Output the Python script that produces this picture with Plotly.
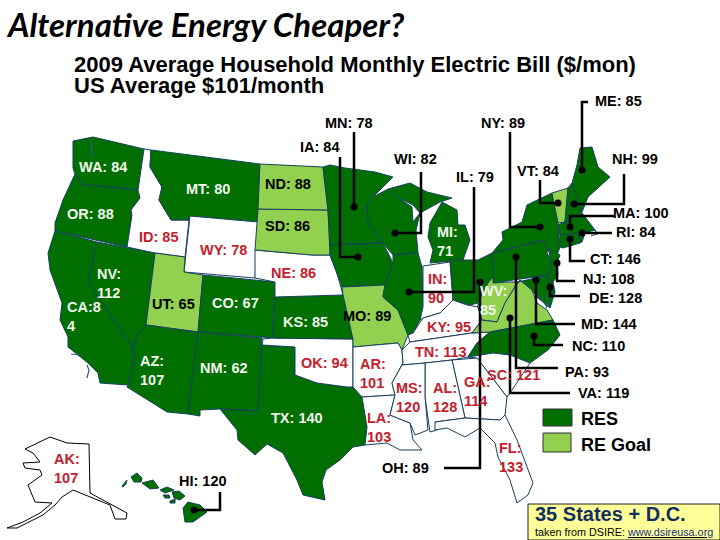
import plotly.graph_objects as go

# bills per state, $/month
states = ["WA", "OR", "CA", "NV", "ID", "MT", "WY", "UT", "AZ", "NM", "CO", "ND", "SD", "NE", "KS", "OK", "TX",
          "MN", "IA", "MO", "AR", "LA", "WI", "IL", "MI", "IN", "OH", "KY", "TN", "MS", "AL", "GA", "FL", "SC",
          "NC", "VA", "WV", "PA", "NY", "VT", "NH", "ME", "MA", "RI", "CT", "NJ", "DE", "MD", "AK", "HI"]
bills = [84, 88, 84, 112, 85, 80, 78, 65, 107, 62, 67, 88, 86, 86, 85, 94, 140,
         78, 84, 89, 101, 103, 82, 79, 71, 90, 89, 95, 113, 120, 128, 114, 133, 121,
         110, 119, 85, 93, 89, 84, 99, 85, 100, 84, 146, 108, 128, 144, 107, 120]
res_states = ["WA", "OR", "CA", "NV", "MT", "AZ", "NM", "CO", "KS", "TX", "MN", "IA", "WI", "IL", "MI", "OH",
              "NC", "PA", "NY", "NH", "ME", "MA", "RI", "CT", "NJ", "DE", "MD", "HI"]
goal_states = ["UT", "ND", "SD", "MO", "VA", "WV", "VT"]
two_line = ["NV", "AZ", "MI", "IN", "WV", "AR", "MS", "AL", "GA", "LA", "FL", "AK"]
black_text = ["MN", "IA", "WI", "IL", "NY", "VT", "ME", "NH", "MA", "RI", "CT", "NJ", "DE", "MD", "NC", "PA",
              "VA", "OH", "HI", "ND", "SD", "UT", "MO"]

# label centres
label_x = dict(WA=103, OR=90, CA=84, NV=109, ID=159, MT=208, WY=223, UT=173, AZ=152, NM=224, CO=235, ND=288,
               SD=287, NE=293, KS=305, OK=324, TX=297, MN=349, IA=320, MO=367, AR=373, LA=379, WI=415, IL=475,
               MI=447, IN=437, OH=405, KY=449, TN=441, MS=409, AL=445, GA=477, FL=511, SC=513, NC=598, VA=603,
               WV=493, PA=587, NY=503, VT=538, NH=635, ME=618, MA=641, RI=636, CT=615, NJ=609, DE=615, MD=609,
               AK=67, HI=203)
label_y = dict(WA=167, OR=214, CA=316, NV=283, ID=237, MT=189, WY=250, UT=304, AZ=370, NM=368, CO=303, ND=184,
               SD=226, NE=273, KS=322, OK=363, TX=418, MN=123, IA=147, MO=316, AR=373, LA=427, WI=159, IL=177,
               MI=241, IN=288, OH=468, KY=327, TN=352, MS=397, AL=397, GA=391, FL=457, SC=375, NC=346, VA=393,
               WV=300, PA=372, NY=123, VT=171, NH=159, ME=101, MA=213, RI=232, CT=259, NJ=279, DE=298, MD=324,
               AK=468, HI=481)

# state outlines
outlines = {
    "WA": [(73, 141), (93, 137), (144, 149), (138, 190), (110, 187), (83, 185), (75, 174), (73, 168)],
    "OR": [(75, 174), (83, 185), (110, 187), (138, 190), (140, 198), (131, 210), (132, 215), (127, 247), (55, 231),
           (55, 223), (63, 200)],
    "CA": [(55, 231), (97, 242), (88, 282), (133, 348), (135, 357), (128, 385), (100, 383), (98, 373), (88, 363),
           (68, 347), (68, 337), (60, 320), (62, 303), (50, 270), (48, 253)],
    "NV": [(97, 242), (155, 253), (146, 325), (137, 337), (133, 348), (88, 282)],
    "ID": [(144, 149), (151, 150), (150, 167), (162, 187), (159, 200), (171, 220), (189, 220), (185, 257), (155, 253),
           (127, 247), (132, 215), (131, 210), (140, 198), (138, 190)],
    "MT": [(151, 150), (260, 164), (258, 222), (190, 216), (189, 220), (171, 220), (159, 200), (162, 187), (150, 167)],
    "WY": [(190, 216), (258, 222), (255, 278), (184, 272)],
    "UT": [(185, 257), (184, 272), (203, 275), (198, 332), (146, 325), (155, 253)],
    "CO": [(203, 275), (275, 282), (273, 338), (198, 332)],
    "AZ": [(146, 325), (198, 332), (197, 340), (188, 414), (167, 412), (127, 387), (128, 385), (135, 357), (133, 348),
           (137, 337)],
    "NM": [(198, 332), (262, 338), (258, 411), (220, 409), (200, 410), (200, 416), (188, 414)],
    "TX": [(262, 345), (295, 347), (295, 375), (317, 383), (347, 387), (353, 387), (362, 397), (367, 427), (365, 445),
           (353, 447), (340, 460), (326, 470), (322, 482), (325, 500), (303, 495), (297, 480), (283, 453), (267, 444),
           (255, 455), (238, 440), (237, 430), (220, 409), (258, 411)],
    "OK": [(263, 339), (273, 338), (353, 339), (353, 347), (353, 387), (347, 387), (317, 383), (295, 375), (295, 347),
           (262, 345)],
    "KS": [(275, 297), (343, 295), (353, 339), (273, 338)],
    "NE": [(255, 250), (312, 255), (330, 255), (337, 273), (343, 295), (275, 297), (275, 282), (255, 278)],
    "SD": [(258, 209), (328, 210), (330, 255), (312, 255), (255, 250)],
    "ND": [(260, 164), (323, 167), (328, 210), (258, 209)],
    "MN": [(323, 167), (330, 165), (345, 168), (360, 170), (375, 172), (393, 177), (373, 197), (367, 205), (368, 223),
           (383, 243), (330, 245), (328, 210)],
    "IA": [(330, 245), (383, 243), (393, 263), (385, 285), (342, 287), (337, 273), (330, 255)],
    "MO": [(342, 287), (385, 285), (383, 297), (398, 310), (408, 335), (402, 350), (398, 343), (353, 347), (353, 339),
           (343, 295)],
    "AR": [(353, 347), (398, 343), (402, 350), (403, 363), (392, 383), (395, 395), (362, 397), (353, 387)],
    "LA": [(362, 397), (395, 395), (390, 415), (410, 423), (413, 440), (422, 450), (400, 450), (387, 443), (365, 445),
           (367, 427)],
    "WI": [(373, 197), (388, 189), (397, 197), (412, 207), (413, 222), (420, 213), (416, 230), (418, 253), (393, 255),
           (383, 243), (368, 223), (367, 205)],
    "IL": [(393, 255), (418, 253), (422, 267), (423, 307), (420, 320), (413, 333), (408, 335), (398, 310), (383, 297),
           (385, 285), (393, 263)],
    "MI": [(388, 189), (410, 183), (427, 192), (452, 198), (440, 202), (420, 213), (413, 205), (397, 197)],
    "MI2": [(442, 202), (457, 210), (458, 225), (465, 225), (470, 240), (463, 260), (430, 263), (433, 250), (428, 237),
            (430, 223)],
    "IN": [(423, 266), (450, 262), (453, 300), (440, 313), (423, 318), (420, 320), (423, 307)],
    "OH": [(450, 260), (463, 260), (478, 260), (492, 253), (493, 277), (488, 283), (478, 303), (470, 305), (453, 300)],
    "KY": [(423, 318), (440, 313), (453, 300), (467, 305), (478, 307), (482, 320), (472, 333), (410, 342), (408, 335),
           (413, 333)],
    "TN": [(410, 342), (472, 333), (490, 332), (477, 343), (468, 357), (452, 360), (425, 363), (402, 365), (403, 363),
           (402, 350)],
    "WV": [(478, 303), (488, 283), (493, 277), (495, 283), (507, 282), (518, 282), (515, 287), (505, 303), (497, 322),
           (482, 320), (478, 307)],
    "VA": [(472, 333), (482, 320), (497, 322), (505, 303), (515, 287), (520, 280), (532, 290), (537, 303), (547, 310),
           (553, 320), (490, 332)],
    "PA": [(492, 253), (543, 240), (548, 248), (547, 253), (553, 263), (548, 275), (493, 283), (493, 277)],
    "NY": [(492, 253), (503, 240), (502, 232), (522, 222), (527, 205), (552, 193), (558, 223), (560, 247), (557, 255),
           (548, 248), (543, 240)],
    "VT": [(552, 193), (568, 188), (565, 222), (558, 223)],
    "NH": [(568, 188), (572, 183), (582, 212), (565, 222)],
    "ME": [(572, 183), (577, 165), (580, 148), (592, 147), (598, 167), (610, 177), (588, 197), (582, 212)],
    "MA": [(558, 225), (565, 222), (582, 213), (595, 230), (583, 233), (560, 235)],
    "CT": [(560, 235), (578, 233), (580, 243), (563, 248), (560, 247)],
    "RI": [(578, 233), (585, 233), (582, 242), (580, 243)],
    "NJ": [(548, 248), (560, 255), (557, 263), (558, 275), (553, 282), (547, 278), (552, 265)],
    "DE": [(547, 278), (553, 282), (555, 292), (549, 292)],
    "MD": [(518, 282), (548, 275), (549, 292), (555, 292), (550, 308), (538, 298), (532, 290), (520, 280), (515, 287)],
    "NC": [(490, 332), (553, 320), (560, 335), (548, 350), (530, 363), (510, 355), (493, 353), (468, 357), (477, 343)],
    "SC": [(468, 357), (493, 353), (510, 355), (530, 363), (510, 393), (507, 397), (477, 358)],
    "GA": [(452, 360), (477, 358), (507, 397), (505, 415), (500, 420), (465, 418)],
    "AL": [(425, 363), (452, 360), (465, 418), (435, 422), (437, 430), (430, 432), (425, 397)],
    "MS": [(402, 365), (425, 363), (425, 397), (428, 430), (415, 435), (410, 423), (390, 415), (395, 395), (392, 383)],
    "FL": [(435, 422), (465, 418), (500, 420), (505, 415), (517, 440), (533, 483), (528, 495), (517, 503), (510, 480),
           (498, 457), (495, 443), (480, 428), (465, 437), (447, 428), (435, 430)],
    "AK": [(25, 449), (50, 437), (67, 443), (89, 444), (90, 493), (107, 502), (127, 513), (126, 519), (115, 519),
           (110, 505), (73, 490), (62, 497), (55, 505), (43, 515), (17, 528), (7, 528), (23, 522), (40, 513), (52, 503),
           (35, 502), (28, 485), (42, 475), (40, 470), (25, 468), (23, 463), (40, 462), (33, 453)],
    "HI": [(122, 486), (127, 480), (126, 484), (123, 487)],
    "HI2": [(131, 477), (137, 473), (142, 478), (141, 482), (134, 482)],
    "HI3": [(142, 483), (153, 480), (159, 488), (150, 489)],
    "HI4": [(160, 490), (167, 487), (174, 490), (165, 493)],
    "HI5": [(163, 495), (169, 495), (170, 498), (165, 498)],
    "HI6": [(172, 492), (179, 491), (185, 496), (180, 500), (174, 498)],
    "HI7": [(170, 501), (175, 499), (175, 503), (170, 503)],
    "HI8": [(183, 508), (188, 502), (200, 505), (207, 512), (193, 522), (185, 522)],
}

# small water details: Puget Sound, Channel Islands, Chesapeake, Cape Cod
water_details = [
    [(90, 140), (92, 146), (91, 152), (93, 157)],
    [(71, 354), (79, 355)],
    [(87, 365), (89, 370), (87, 378)],
    [(537, 293), (543, 302), (547, 307)],
    [(546, 294), (548, 301), (546, 308)],
    [(595, 230), (597, 234), (591, 236)],
]

# (x, y) runs of the leader lines, label end first
leaders = {
    "MN": [(354, 132), (354, 207)],
    "IA": [(340, 157), (340, 257), (358, 257)],
    "WI": [(421, 172), (421, 233), (395, 233)],
    "IL": [(474, 187), (474, 292), (409, 292)],
    "NY": [(510, 132), (510, 227), (540, 227)],
    "VT": [(540, 180), (540, 203), (558, 203)],
    "ME": [(588, 102), (582, 102), (582, 170)],
    "NH": [(624, 174), (624, 204), (574, 204)],
    "MA": [(615, 216), (570, 216), (570, 227)],
    "RI": [(612, 233), (582, 233)],
    "CT": [(585, 261), (570, 261), (570, 239)],
    "NJ": [(575, 281), (557, 281), (557, 263)],
    "DE": [(580, 296), (550, 296), (550, 287)],
    "MD": [(575, 324), (536, 324), (536, 280)],
    "NC": [(563, 345), (534, 345), (534, 336)],
    "PA": [(558, 368), (516, 368), (516, 257)],
    "VA": [(570, 393), (510, 393), (510, 318)],
    "OH": [(444, 468), (480, 468), (480, 282)],
    "HI": [(220, 492), (220, 510), (194, 510)],
}

RES_GREEN = "#006f00"
GOAL_GREEN = "#92d050"
BORDER = "#17405f"
RED_TEXT = "#c4202c"
ARIAL = "Liberation Sans"

fig = go.Figure()


def add_shape_trace(points, fill, line=BORDER):
    fig.add_trace(go.Scatter(x=[p[0] for p in points] + [points[0][0]],
                             y=[p[1] for p in points] + [points[0][1]],
                             mode="lines", fill="toself", fillcolor=fill,
                             line=dict(color=line, width=1), hoverinfo="skip"))


for st, pts in outlines.items():
    code = st[:2]
    color = RES_GREEN if code in res_states else GOAL_GREEN if code in goal_states else "white"
    add_shape_trace(pts, color, "black" if st == "AK" else BORDER)

for pts in water_details:
    fig.add_trace(go.Scatter(x=[p[0] for p in pts], y=[p[1] for p in pts], mode="lines",
                             line=dict(color="#2a5a86", width=1.2), hoverinfo="skip"))

# legend swatches and the yellow box
add_shape_trace([(543, 409), (572, 409), (572, 426), (543, 426)], RES_GREEN, "#333333")
add_shape_trace([(543, 433), (571, 433), (571, 452), (543, 452)], GOAL_GREEN, "#333333")
add_shape_trace([(528, 504), (720, 504), (720, 540), (528, 540)], "#ffff99", "#222222")

for st, pts in leaders.items():
    fig.add_trace(go.Scatter(x=[p[0] for p in pts], y=[p[1] for p in pts], mode="lines",
                             line=dict(color="black", width=2.5), hoverinfo="skip"))
    fig.add_trace(go.Scatter(x=[pts[-1][0]], y=[pts[-1][1]], mode="markers",
                             marker=dict(color="black", size=7), hoverinfo="skip"))

for st, bill in zip(states, bills):
    if st == "CA":
        text = f"CA:{str(bill)[0]}<br>{str(bill)[1]}"
    elif st in two_line:
        text = f"{st}:<br>{bill}"
    else:
        text = f"{st}: {bill}"
    if st in black_text:
        color = "black"
    elif st in res_states or st == "WV":
        color = "#f2f7ee"
    else:
        color = RED_TEXT
    fig.add_annotation(x=label_x[st], y=label_y[st], text=text, showarrow=False, align="left",
                       font=dict(family=ARIAL, size=14.5, color=color, weight="bold"))


def add_text(x, y, text, size, color="black", weight="bold", family=ARIAL, style="normal"):
    fig.add_annotation(x=x, y=y, text=text, showarrow=False, xanchor="left", align="left",
                       font=dict(family=family, size=size, color=color, weight=weight, style=style))


add_text(4, 24, "Alternative Energy Cheaper?", 33, family="Lato", style="italic")
add_text(72, 64, "2009 Average Household Monthly Electric Bill ($/mon)", 22)
add_text(72, 85, "US Average $101/month", 22)
add_text(579, 419, "RES", 18)
add_text(579, 445, "RE Goal", 18)
add_text(533, 514, "35 States + D.C.", 20, color="#12305f")
add_text(533, 532, "taken from DSIRE: <u><span style='color:#1a2f8a'>www.dsireusa.org</span></u>", 10.8,
         weight="normal")

fig.update_xaxes(range=[0, 720], visible=False)
fig.update_yaxes(range=[540, 0], visible=False)
fig.update_layout(width=720, height=540, margin=dict(l=0, r=0, t=0, b=0), showlegend=False,
                  paper_bgcolor="white", plot_bgcolor="white")
# page body has an 8px margin by default
fig.write_html("out.html", config={"displayModeBar": False},
               post_script="document.body.style.margin = '0';")
